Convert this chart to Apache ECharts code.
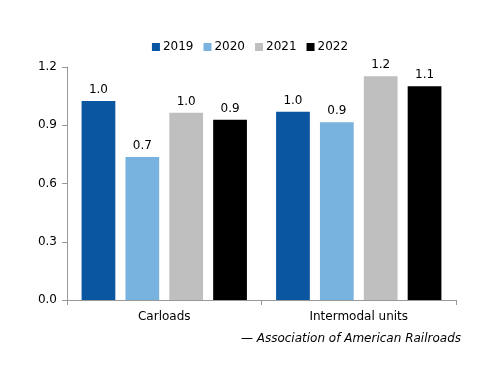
<!DOCTYPE html>
<html><head><meta charset="utf-8">
<script src="https://cdn.jsdelivr.net/npm/echarts@6/dist/echarts.min.js"></script>
<style>html,body{margin:0;padding:0;background:#fff}#c{width:500px;height:386px}</style>
</head><body><div id="c"></div>
<script>
const categories = ['Carloads', 'Intermodal units'];
const seriesNames = ['2019', '2020', '2021', '2022'];
const v2019 = [1.025, 0.97];
const v2020 = [0.737, 0.915];
const v2021 = [0.965, 1.153];
const v2022 = [0.928, 1.101];
const yTicks = [0, 0.3, 0.6, 0.9, 1.2];
const colors = ['#0a56a0', '#78b2de', '#bfbfbf', '#000000'];
const values = [v2019, v2020, v2021, v2022];
const font = 'DejaVu Sans';
const chart = echarts.init(document.getElementById('c'));
chart.setOption({
  animation: false,
  textStyle: {fontFamily: font},
  legend: {
    top: 36, left: 'center', itemWidth: 8, itemHeight: 8, itemGap: 10,
    icon: 'rect',
    textStyle: {fontFamily: font, fontSize: 12, color: '#000', padding: [0,0,0,-2]},
    data: seriesNames
  },
  grid: {left: 67, right: 44, top: 67, bottom: 86},
  xAxis: {
    type: 'category', data: categories,
    axisLine: {lineStyle: {color: '#999'}},
    axisTick: {show: true, length: 5, lineStyle: {color: '#999'}},
    axisLabel: {color: '#000', fontSize: 12, fontFamily: font, margin: 11}
  },
  yAxis: {
    type: 'value', min: yTicks[0], max: yTicks[yTicks.length-1], interval: 0.3,
    axisLine: {show: true, lineStyle: {color: '#999'}},
    axisTick: {show: true, length: 5, lineStyle: {color: '#999'}},
    splitLine: {show: false},
    axisLabel: {color: '#000', fontSize: 12, fontFamily: font, margin: 10,
      formatter: v => v.toFixed(1)}
  },
  series: seriesNames.map((n, i) => ({
    name: n, type: 'bar', data: values[i],
    barGap: '30%', barCategoryGap: '15%',
    itemStyle: {color: colors[i]},
    label: {show: true, position: 'top', color: '#000', fontSize: 12, fontFamily: font,
      distance: 5, formatter: p => p.value.toFixed(1)}
  })),
  graphic: [{
    type: 'text', right: 39, top: 333,
    style: {text: '— Association of American Railroads', fontFamily: font,
      fontStyle: 'italic', fontSize: 12, fill: '#000'}
  }]
});
</script></body></html>
